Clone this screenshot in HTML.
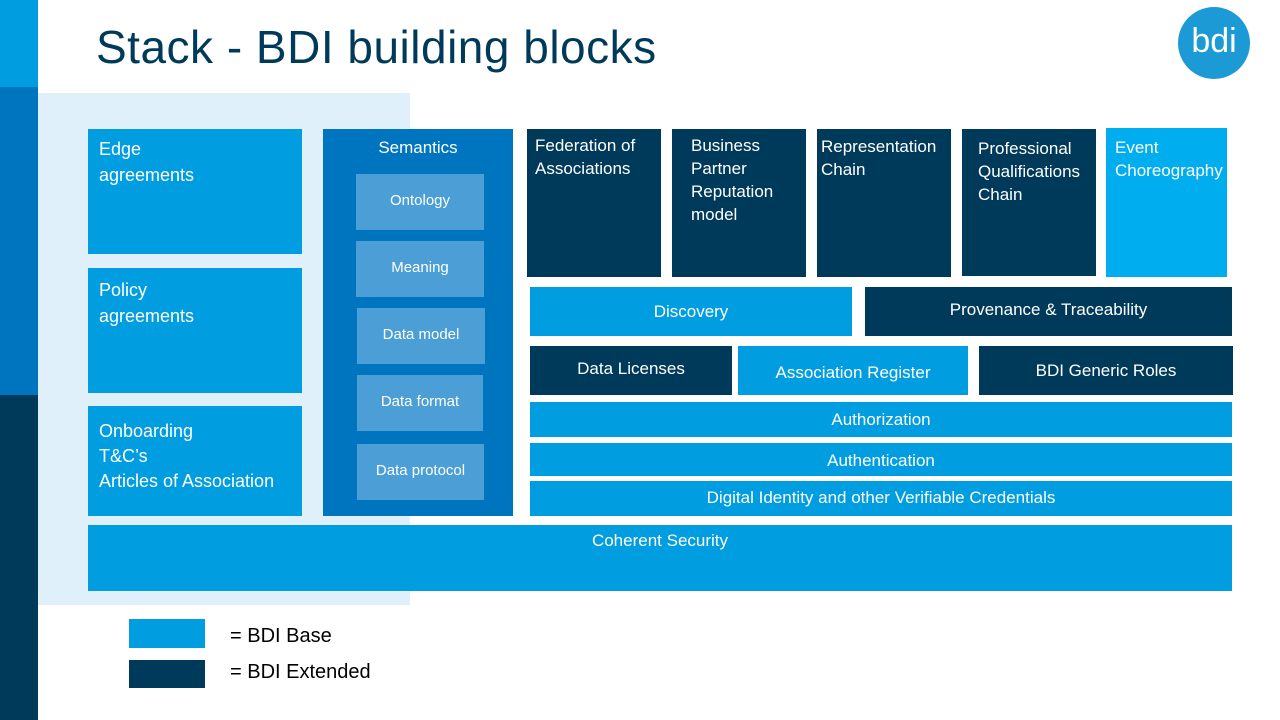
<!DOCTYPE html>
<html><head><meta charset="utf-8"><style>
body{margin:0;width:1280px;height:720px;position:relative;background:#fff;font-family:"Liberation Sans",sans-serif;overflow:hidden}
div{position:absolute;box-sizing:border-box}
.b{background:#009de0;color:#fff}
.d{background:#003a5a;color:#fff}
.s{background:#4b9fd6;color:#fff;font-size:15px;text-align:center}
.t{font-size:17px;line-height:23px}
.c{text-align:center;font-size:17px}
</style></head><body>
<div style="left:0;top:0;width:38px;height:87px;background:#009de0"></div>
<div style="left:0;top:87px;width:38px;height:308px;background:#0075bf"></div>
<div style="left:0;top:395px;width:38px;height:325px;background:#003a5a"></div>
<div style="left:96px;top:20px;font-size:46px;letter-spacing:0.5px;color:#003a5a;white-space:nowrap">Stack - BDI building blocks</div>
<div style="left:1178px;top:7px;width:72px;height:72px;border-radius:50%;background:#1c9ad6;color:#fff;font-size:34px;text-align:center;line-height:68px">bdi</div>
<div style="left:38px;top:93px;width:372px;height:512px;background:#dff0fa"></div>
<div class="b t" style="left:88px;top:129px;width:214px;height:125px;padding:7px 11px;line-height:26px;font-size:18px">Edge<br>agreements</div>
<div class="b t" style="left:88px;top:268px;width:214px;height:125px;padding:9px 11px;line-height:26px;font-size:18px">Policy<br>agreements</div>
<div class="b t" style="left:88px;top:406px;width:214px;height:110px;padding:13px 11px;line-height:25px;font-size:18px">Onboarding<br>T&amp;C’s<br>Articles of Association</div>
<div style="left:323px;top:129px;width:190px;height:387px;background:#0075bf;color:#fff;font-size:17px;text-align:center;padding-top:9px">Semantics</div>
<div class="s" style="left:356px;top:174px;width:128px;height:56px;line-height:54px">Ontology</div>
<div class="s" style="left:356px;top:241px;width:128px;height:56px;line-height:54px">Meaning</div>
<div class="s" style="left:357px;top:308px;width:128px;height:56px;line-height:54px">Data model</div>
<div class="s" style="left:357px;top:375px;width:126px;height:56px;line-height:54px">Data format</div>
<div class="s" style="left:357px;top:444px;width:127px;height:56px;line-height:54px">Data protocol</div>
<div class="d t" style="left:527px;top:129px;width:134px;height:148px;padding:5px 8px">Federation of Associations</div>
<div class="d t" style="left:672px;top:129px;width:134px;height:148px;padding:5px 19px">Business Partner Reputation model</div>
<div class="d t" style="left:817px;top:129px;width:134px;height:148px;padding:6px 4px">Representation Chain</div>
<div class="d t" style="left:962px;top:129px;width:134px;height:147px;padding:8px 16px">Professional Qualifications Chain</div>
<div class="b t" style="left:1106px;top:128px;width:121px;height:149px;padding:8px 9px;background:#00aeef">Event Choreography</div>
<div class="b c" style="left:530px;top:287px;width:322px;height:49px;line-height:49px">Discovery</div>
<div class="d c" style="left:865px;top:287px;width:367px;height:49px;line-height:46px">Provenance &amp; Traceability</div>
<div class="d c" style="left:530px;top:346px;width:202px;height:49px;line-height:46px">Data Licenses</div>
<div class="b c" style="left:738px;top:346px;width:230px;height:49px;line-height:53px">Association Register</div>
<div class="d c" style="left:979px;top:346px;width:254px;height:49px;line-height:49px">BDI Generic Roles</div>
<div class="b c" style="left:530px;top:402px;width:702px;height:35px;line-height:35px">Authorization</div>
<div class="b c" style="left:530px;top:443px;width:702px;height:33px;line-height:35px">Authentication</div>
<div class="b c" style="left:530px;top:481px;width:702px;height:35px;line-height:33px">Digital Identity and other Verifiable Credentials</div>
<div class="b c" style="left:88px;top:525px;width:1144px;height:66px;line-height:32px">Coherent Security</div>
<div class="b" style="left:129px;top:619px;width:76px;height:29px"></div>
<div class="d" style="left:129px;top:660px;width:76px;height:28px"></div>
<div style="left:230px;top:625px;font-size:20px">= BDI Base</div>
<div style="left:230px;top:661px;font-size:20px">= BDI Extended</div>
</body></html>
